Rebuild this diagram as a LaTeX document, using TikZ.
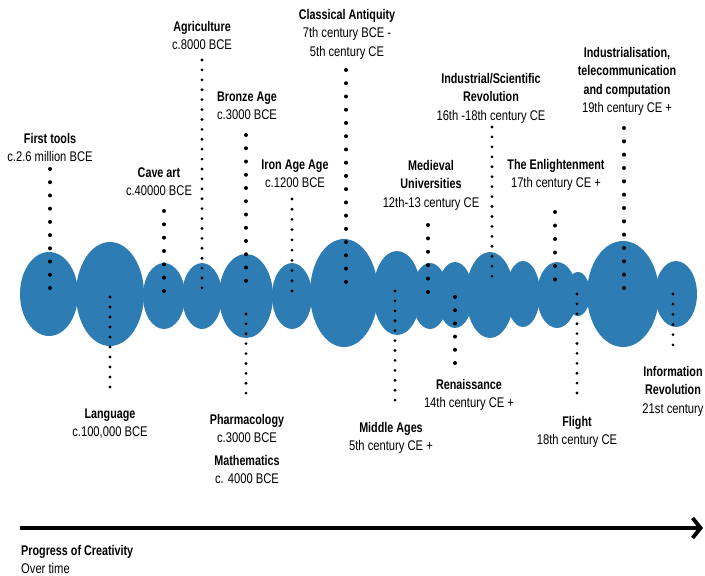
\documentclass[tikz,border=0pt]{standalone}
\usepackage{fontspec}
\setmainfont{Liberation Sans}[FakeStretch=0.8,BoldFeatures={FakeStretch=0.77}]
\usetikzlibrary{arrows.meta}
\definecolor{blob}{RGB}{45,125,180}
\begin{document}
\begin{tikzpicture}[x=1pt,y=-1pt,
  lbl/.style={align=center,anchor=base,inner sep=0pt,font=\fontsize{14}{18.5}\selectfont},
  era/.style={fill=blob},
  bigdots/.style={draw=black,line width=4pt,line cap=round,dash pattern=on 0pt off #1},
  smalldots/.style={draw=black,line width=3.1pt,line cap=round,dash pattern=on 0pt off #1},
  timeline/.style={line width=4.5pt,-{Straight Barb[length=8pt,width=20pt,line width=3.8pt]}}
]
\useasboundingbox (0,0) rectangle (705,576);

% the chain of eras
\fill[era] (49,294)  ellipse [x radius=29pt, y radius=42pt];
\fill[era] (110,294) ellipse [x radius=34pt, y radius=52pt];
\fill[era] (164,296) ellipse [x radius=21pt, y radius=33pt];
\fill[era] (202,296) ellipse [x radius=20pt, y radius=33pt];
\fill[era] (246,296) ellipse [x radius=27pt, y radius=42pt];
\fill[era] (292,296) ellipse [x radius=20pt, y radius=33pt];
\fill[era] (344,293) ellipse [x radius=34pt, y radius=54pt];
\fill[era] (397,293) ellipse [x radius=24pt, y radius=42pt];
\fill[era] (430,296) ellipse [x radius=18pt, y radius=33pt];
\fill[era] (455,295) ellipse [x radius=18pt, y radius=33pt];
\fill[era] (490,295) ellipse [x radius=24pt, y radius=43pt];
\fill[era] (523,294) ellipse [x radius=17pt, y radius=33pt];
\fill[era] (557,295) ellipse [x radius=20pt, y radius=33pt];
\fill[era] (578,294) ellipse [x radius=12pt, y radius=22pt];
\fill[era] (623,294) ellipse [x radius=36pt, y radius=53pt];
\fill[era] (676,294) ellipse [x radius=21pt, y radius=33pt];

% labels above the chain (positions are the baseline of the last line)
\node[lbl] (tools)   at (50,161.5)  {\textbf{First tools}\\c.2.6 million BCE};
\node[lbl] (cave)    at (159,195.5) {\textbf{Cave art}\\c.40000 BCE};
\node[lbl] (agri)    at (202,49.5)  {\textbf{Agriculture}\\c.8000 BCE};
\node[lbl] (bronze)  at (247,119.5) {\textbf{Bronze Age}\\c.3000 BCE};
\node[lbl] (iron)    at (295,187.5) {\textbf{Iron Age Age}\\c.1200 BCE};
\node[lbl] (classic) at (347,56)    {\textbf{Classical Antiquity}\\7th century BCE -\\5th century CE};
\node[lbl] (univ)    at (431,207)   {\textbf{Medieval}\\\textbf{Universities}\\12th-13 century CE};
\node[lbl] (indsci)  at (491,120)   {\textbf{Industrial/Scientific}\\\textbf{Revolution}\\16th -18th century CE};
\node[lbl] (enlight) at (556,187.5) {\textbf{The Enlightenment}\\17th century CE +};
\node[lbl] (telecom) at (627,112.5) {\textbf{Industrialisation,}\\\textbf{telecommunication}\\\textbf{and computation}\\19th century CE +};

% labels below the chain
\node[lbl] (lang)    at (110,436.5) {\textbf{Language}\\c.100,000 BCE};
\node[lbl] (pharma)  at (247,483.5) {\textbf{Pharmacology}\\c.3000 BCE\\[4pt]\textbf{Mathematics}\\c. 4000 BCE};
\node[lbl] (middle)  at (391,450.5) {\textbf{Middle Ages}\\5th century CE +};
\node[lbl] (renais)  at (469,407.5) {\textbf{Renaissance}\\14th century CE +};
\node[lbl] (flight)  at (577,444.5) {\textbf{Flight}\\18th century CE};
\node[lbl] (info)    at (673,413)   {\textbf{Information}\\\textbf{Revolution}\\21st century};

% ends of the dotted leaders
\coordinate (toolsA)   at (50,169);  \coordinate (toolsB)   at (50,288);
\coordinate (caveA)    at (164,211); \coordinate (caveB)    at (164,291);
\coordinate (agriA)    at (202,60);  \coordinate (agriB)    at (202,288);
\coordinate (bronzeA)  at (246,135); \coordinate (bronzeB)  at (246,294);
\coordinate (ironA)    at (292,199); \coordinate (ironB)    at (292,291);
\coordinate (classicA) at (346,70);  \coordinate (classicB) at (346,295);
\coordinate (univA)    at (428,225); \coordinate (univB)    at (428,292);
\coordinate (indsciA)  at (492,127); \coordinate (indsciB)  at (492,286);
\coordinate (enlightA) at (555,212); \coordinate (enlightB) at (555,293);
\coordinate (telecomA) at (624,128); \coordinate (telecomB) at (624,288);
\coordinate (langA)    at (110,297); \coordinate (langB)    at (110,397);
\coordinate (pharmaA)  at (246,314); \coordinate (pharmaB)  at (246,403);
\coordinate (middleA)  at (395,291); \coordinate (middleB)  at (395,410);
\coordinate (renaisA)  at (455,297); \coordinate (renaisB)  at (455,363);
\coordinate (flightA)  at (577,294); \coordinate (flightB)  at (577,393);
\coordinate (infoA)    at (673,294); \coordinate (infoB)    at (673,355);

% dotted leaders
\draw[bigdots=13.22pt]   (toolsA)   -- (toolsB);
\draw[bigdots=13.33pt]   (caveA)    -- (caveB);
\draw[smalldots=9.91pt]  (agriA)    -- (agriB);
\draw[bigdots=13.25pt]   (bronzeA)  -- (bronzeB);
\draw[smalldots=10.22pt] (ironA)    -- (ironB);
\draw[bigdots=13.24pt]   (classicA) -- (classicB);
\draw[bigdots=13.4pt]    (univA)    -- (univB);
\draw[smalldots=9.94pt]  (indsciA)  -- (indsciB);
\draw[bigdots=13.5pt]    (enlightA) -- (enlightB);
\draw[bigdots=13.33pt]   (telecomA) -- (telecomB);
\draw[smalldots=10pt]    (langA)    -- (langB);
\draw[smalldots=9.89pt]  (pharmaA)  -- (pharmaB);
\draw[smalldots=9.92pt]  (middleA)  -- (middleB);
\draw[bigdots=13.2pt]    (renaisA)  -- (renaisB);
\draw[smalldots=9.9pt]   (flightA)  -- (flightB);
\draw[smalldots=10.17pt] (infoA)    -- (infoB);

% time axis
\coordinate (axisA) at (20,528);
\coordinate (axisB) at (703,528);
\draw[timeline] (axisA) -- (axisB);
\node[lbl,align=left,anchor=base west] (axislbl) at (21,573.5) {\textbf{Progress of Creativity}\\Over time};
\end{tikzpicture}
\end{document}
